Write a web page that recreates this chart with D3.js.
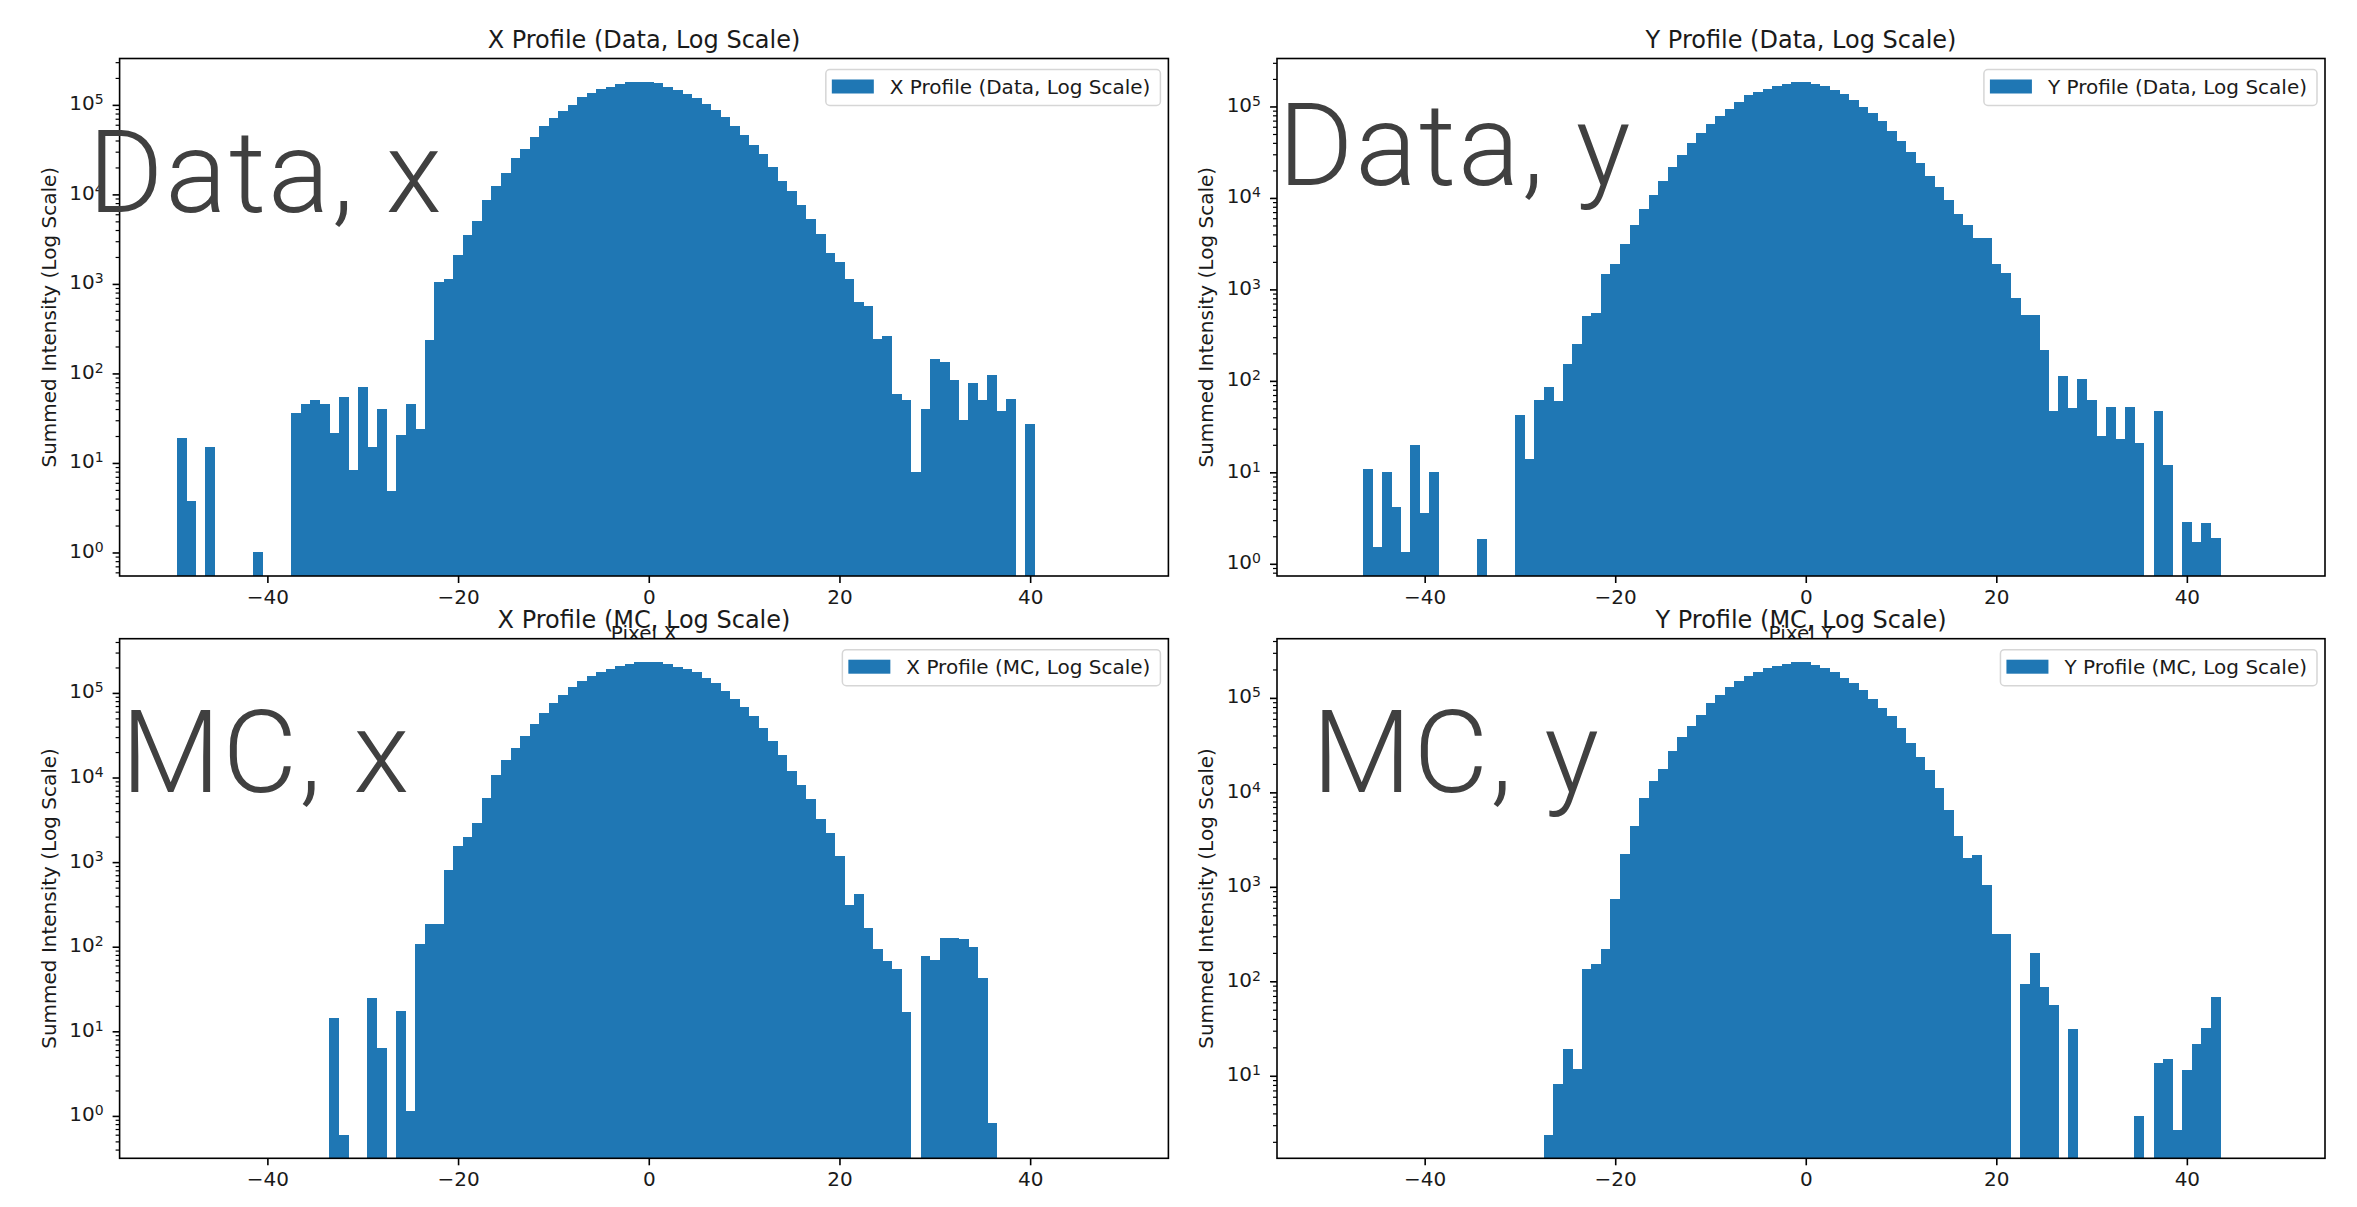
<!DOCTYPE html>
<html>
<head>
<meta charset="utf-8">
<script src="https://cdn.jsdelivr.net/npm/d3@7"></script>
<style>
  html, body { margin: 0; padding: 0; background: #ffffff; }
  svg { display: block; }
</style>
</head>
<body>
<svg id="chart" width="2357" height="1207"></svg>
<script>
// ---------------- data ----------------
// bin centres (pixel offset), one bar per pixel
const pixelBins = [
  -50,-49,-48,-47,-46,-45,-44,-43,-42,-41,
  -40,-39,-38,-37,-36,-35,-34,-33,-32,-31,
  -30,-29,-28,-27,-26,-25,-24,-23,-22,-21,
  -20,-19,-18,-17,-16,-15,-14,-13,-12,-11,
  -10,-9,-8,-7,-6,-5,-4,-3,-2,-1,
  0,1,2,3,4,5,6,7,8,9,
  10,11,12,13,14,15,16,17,18,19,
  20,21,22,23,24,25,26,27,28,29,
  30,31,32,33,34,35,36,37,38,39,
  40,41,42,43,44,45,46,47,48,49
];
const xTickValues = [-40, -20, 0, 20, 40];

// X profile, data
const dataXProfile = [
  0, 19, 3.8, 0, 15, 0, 0, 0, 0, 1.0,
  0, 0, 0, 36, 45, 50, 45, 21.6, 55, 8.3,
  71, 15, 40, 4.9, 20.6, 45, 24, 236, 1050, 1130,
  2080, 3490, 5070, 8700, 12400, 17400, 25300, 32300, 44200, 58200,
  72000, 85500, 100000, 121000, 134000, 150000, 160000, 172000, 180000, 180000,
  180000, 174000, 157000, 145000, 132000, 119000, 103000, 88000, 73000, 58000,
  46500, 35400, 28500, 20200, 14200, 10800, 7700, 5340, 3630, 2210,
  1770, 1130, 621, 561, 242, 259, 59, 50, 7.9, 40,
  144, 134, 84, 30, 78, 50, 95, 37.6, 51.5, 0,
  27.5, 0, 0, 0, 0, 0, 0, 0, 0, 0
];
// Y profile, data
const dataYProfile = [
  0, 0, 0, 0, 10.8, 1.53, 10, 4.15, 1.33, 20,
  3.58, 10, 0, 0, 0, 0, 1.89, 0, 0, 0,
  42, 14, 62, 85, 61, 154, 256, 514, 556, 1460,
  1880, 3120, 5030, 7560, 10900, 15300, 21900, 29200, 39600, 50700,
  64300, 79300, 94000, 113000, 133000, 143000, 156000, 169000, 178000, 185000,
  185000, 176000, 169000, 150000, 136000, 118000, 98700, 85000, 69600, 54400,
  41900, 31700, 24200, 17500, 13100, 9420, 6650, 5080, 3610, 3610,
  1880, 1510, 805, 530, 530, 220, 47, 113, 51, 104,
  62, 25, 52, 22.9, 52, 20.8, 0, 47, 12, 0,
  2.84, 1.73, 2.76, 1.91, 0, 0, 0, 0, 0, 0
];
// X profile, MC
const mcXProfile = [
  0, 0, 0, 0, 0, 0, 0, 0, 0, 0,
  0, 0, 0, 0, 0, 0, 0, 14.3, 0.6, 0,
  0, 24.7, 6.3, 0, 17.2, 1.14, 108, 188, 188, 816,
  1560, 1960, 2920, 5680, 10700, 16300, 22400, 31300, 43000, 57200,
  76900, 94800, 117000, 137000, 157000, 175000, 192000, 209000, 218000, 230000,
  230000, 230000, 220000, 205000, 192000, 175000, 152000, 130000, 105000, 85400,
  67700, 53200, 38700, 26800, 18300, 11800, 8140, 5510, 3250, 2200,
  1170, 313, 416, 166, 93, 68, 54, 17, 0, 78,
  69, 128, 128, 124, 98, 43, 0.83, 0, 0, 0,
  0, 0, 0, 0, 0, 0, 0, 0, 0, 0
];
// Y profile, MC
const mcYProfile = [
  0, 0, 0, 0, 0, 0, 0, 0, 0, 0,
  0, 0, 0, 0, 0, 0, 0, 0, 0, 0,
  0, 0, 0, 2.38, 8.1, 19, 11.9, 134, 152, 221,
  748, 2240, 4420, 8720, 13100, 17500, 27300, 38700, 50500, 66300,
  88900, 108000, 130000, 150000, 172000, 189000, 208000, 218000, 226000, 238000,
  238000, 222000, 208000, 189000, 164000, 143000, 122000, 97900, 78800, 64000,
  48100, 33600, 23700, 17100, 11100, 6500, 3480, 2030, 2180, 1050,
  317, 317, 0, 94.6, 198, 87.7, 56, 0, 31, 0,
  0, 0, 0, 0, 0, 3.74, 0, 13.7, 15, 2.67,
  11.6, 21.5, 31.9, 68, 0, 0, 0, 0, 0, 0
];

const panelTitles = [
  "X Profile (Data, Log Scale)", "Y Profile (Data, Log Scale)",
  "X Profile (MC, Log Scale)", "Y Profile (MC, Log Scale)"
];
const panelXLabels = ["Pixel X", "Pixel Y", "Pixel X", "Pixel Y"];
const yAxisLabel = "Summed Intensity (Log Scale)";
const overlayLabels = ["Data, x", "Data, y", "MC, x", "MC, y"];
const seriesList = [dataXProfile, dataYProfile, mcXProfile, mcYProfile];

// ---------------- layout ----------------
const FONT = "'DejaVu Sans', 'Liberation Sans', sans-serif";
const BAR = "#1f77b4";
const TXT = "#1a1a1a";
const boxes = [
  { left: 119.6, right: 1168.4, top: 58.5,  bottom: 576,    ox: 88,   oy: 211.5 },
  { left: 1277,  right: 2325,   top: 58.5,  bottom: 576,    ox: 1278, oy: 184.6 },
  { left: 119.6, right: 1168.4, top: 638.7, bottom: 1158.3, ox: 121,  oy: 791.6 },
  { left: 1277,  right: 2325,   top: 638.7, bottom: 1158.3, ox: 1312, oy: 791.6 }
];

const svg = d3.select("#chart");
svg.append("rect").attr("width", 2357).attr("height", 1207).attr("fill", "#fff");

function logExtent(values) {
  const pos = values.filter(v => v > 0);
  const lo = Math.log10(d3.min(pos)), hi = Math.log10(d3.max(pos));
  const m = (hi - lo) * 0.05;
  return [Math.pow(10, lo - m), Math.pow(10, hi + m)];
}

function drawPanel(i) {
  const b = boxes[i];
  const values = seriesList[i];
  const g = svg.append("g");

  const x = d3.scaleLinear()
    .domain([d3.min(pixelBins) - 0.5 - 5, d3.max(pixelBins) + 0.5 + 5])
    .range([b.left, b.right]);
  const y = d3.scaleLog().domain(logExtent(values)).range([b.bottom, b.top]);

  // axes background
  g.append("rect").attr("x", b.left).attr("y", b.top)
    .attr("width", b.right - b.left).attr("height", b.bottom - b.top)
    .attr("fill", "#fff");

  const clipId = "clip" + i;
  g.append("clipPath").attr("id", clipId).append("rect")
    .attr("x", b.left).attr("y", b.top)
    .attr("width", b.right - b.left).attr("height", b.bottom - b.top);

  const bins = pixelBins.map((c, k) => ({ c, v: values[k] })).filter(d => d.v > 0);
  g.append("g").attr("clip-path", `url(#${clipId})`)
    .selectAll("rect").data(bins).join("rect")
    .attr("x", d => x(d.c - 0.5))
    .attr("width", d => x(d.c + 0.5) - x(d.c - 0.5) + 0.4)
    .attr("y", d => y(d.v))
    .attr("height", d => b.bottom - y(d.v) + 2)
    .attr("fill", BAR)
    .attr("shape-rendering", "crispEdges");

  // x axis
  const xAxis = d3.axisBottom(x).tickValues(xTickValues).tickSize(7).tickPadding(7)
    .tickFormat(d => d < 0 ? "\u2212" + Math.abs(d) : String(d));
  const gx = g.append("g").attr("transform", `translate(0,${b.bottom})`).call(xAxis);
  gx.select(".domain").remove();
  gx.selectAll("line").attr("stroke", "#000").attr("stroke-width", 1.6);
  gx.selectAll("text").attr("font-family", FONT).attr("font-size", 20).attr("fill", TXT);

  // y axis: minor ticks
  const [d0, d1] = y.domain();
  const kLo = Math.floor(Math.log10(d0)), kHi = Math.floor(Math.log10(d1));
  const minor = [], major = [];
  for (let k = kLo; k <= kHi; k++) {
    const p = Math.pow(10, k);
    if (p >= d0 && p <= d1) major.push(p);
    for (let m = 2; m <= 9; m++) {
      const v = m * p;
      if (v >= d0 && v <= d1) minor.push(v);
    }
  }
  const gyMinor = g.append("g").attr("transform", `translate(${b.left},0)`)
    .call(d3.axisLeft(y).tickValues(minor).tickSize(4).tickFormat(""));
  gyMinor.select(".domain").remove();
  gyMinor.selectAll("line").attr("stroke", "#000").attr("stroke-width", 1.2);

  const gy = g.append("g").attr("transform", `translate(${b.left},0)`)
    .call(d3.axisLeft(y).tickValues(major).tickSize(7).tickPadding(7).tickFormat(() => "10"));
  gy.select(".domain").remove();
  gy.selectAll("line").attr("stroke", "#000").attr("stroke-width", 1.6);
  gy.selectAll("text")
    .attr("font-family", FONT).attr("font-size", 20).attr("fill", TXT)
    .attr("dy", "0.25em")
    .each(function (d) {
      const t = d3.select(this);
      t.text("10");
      t.append("tspan").attr("dy", "-0.45em").attr("font-size", 14)
        .text(String(Math.round(Math.log10(d))));
    })
    .attr("x", -16);

  // spines
  g.append("rect").attr("x", b.left).attr("y", b.top)
    .attr("width", b.right - b.left).attr("height", b.bottom - b.top)
    .attr("fill", "none").attr("stroke", "#000").attr("stroke-width", 1.6);

  // labels
  const cx = (b.left + b.right) / 2;
  g.append("text").attr("x", cx).attr("y", b.bottom + 64)
    .attr("text-anchor", "middle").attr("font-family", FONT).attr("font-size", 20)
    .attr("fill", TXT).text(panelXLabels[i]);
  g.append("text")
    .attr("transform", `translate(${b.left - 64},${(b.top + b.bottom) / 2}) rotate(-90)`)
    .attr("text-anchor", "middle").attr("font-family", FONT).attr("font-size", 20)
    .attr("fill", TXT).text(yAxisLabel);
  g.append("text").attr("x", cx).attr("y", b.top - 10.5)
    .attr("text-anchor", "middle").attr("font-family", FONT).attr("font-size", 24)
    .attr("fill", TXT).text(panelTitles[i]);

  // legend
  const lg = g.append("g");
  const boxRight = b.right - 8, boxTop = b.top + 11;
  const lt = lg.append("text").attr("font-family", FONT).attr("font-size", 20)
    .attr("fill", TXT).text(panelTitles[i]);
  const tw = lt.node().getComputedTextLength();
  const textX = boxRight - 10 - tw;
  lt.attr("x", textX).attr("y", boxTop + 24.5);
  const patchX = textX - 16 - 42;
  const boxX = patchX - 6;
  lg.insert("rect", "text").attr("x", boxX).attr("y", boxTop)
    .attr("width", boxRight - boxX).attr("height", 36).attr("rx", 4)
    .attr("fill", "#fff").attr("fill-opacity", 0.8)
    .attr("stroke", "#d6d6d6").attr("stroke-width", 1.5);
  lg.insert("rect", "text").attr("x", patchX).attr("y", boxTop + 10)
    .attr("width", 42).attr("height", 14).attr("fill", BAR);
}

// top row first, bottom row covers the top x-labels
[0, 1, 2, 3].forEach(drawPanel);

// overlaid annotations
overlayLabels.forEach((lab, i) => {
  svg.append("text").attr("x", boxes[i].ox).attr("y", boxes[i].oy)
    .attr("font-family", "Roboto, 'Open Sans', sans-serif").attr("font-weight", 300)
    .attr("font-size", 115).attr("letter-spacing", 2).attr("fill", "#404040").text(lab);
});
</script>
</body>
</html>
